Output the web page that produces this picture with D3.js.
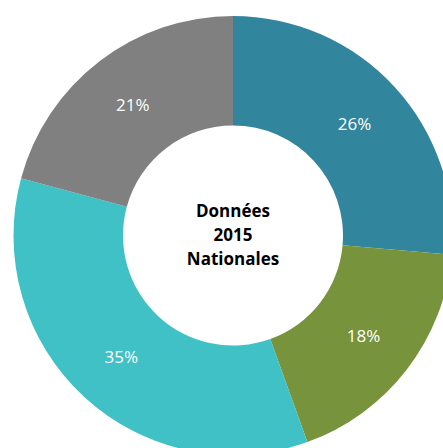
<!DOCTYPE html>
<html>
<head>
<meta charset="utf-8">
<script src="https://cdn.jsdelivr.net/npm/d3@7"></script>
<style>
  body { margin: 0; background: #fff; }
  svg { display: block; }
</style>
</head>
<body>
<div id="chart"></div>
<script>
var categories = ["A", "B", "C", "D"],
    values = [26.4, 18.1, 34.7, 20.8],
    colors = ["#31859C", "#77933C", "#40C1C6", "#808080"],
    centerLines = ["Données", "2015", "Nationales"];

var width = 443, height = 448,
    cx = 233, cy = 235.5,
    outer = 219.5, inner = 110;

var svg = d3.select("#chart").append("svg")
    .attr("width", width)
    .attr("height", height)
  .append("g")
    .attr("transform", `translate(${cx}, ${cy})`);

var pie = d3.pie().sort(null).value(d => d.value),
    arc = d3.arc().innerRadius(inner).outerRadius(outer),
    data = categories.map((c, i) => ({ name: c, value: values[i], color: colors[i] })),
    arcs = pie(data);

svg.selectAll("path")
    .data(arcs)
    .enter().append("path")
    .attr("d", arc)
    .style("fill", d => d.data.color);

var total = d3.sum(values);
svg.selectAll("text.lbl")
    .data(arcs)
    .enter().append("text")
    .attr("class", "lbl")
    .attr("transform", d => `translate(${arc.centroid(d)})`)
    .attr("text-anchor", "middle")
    .attr("dy", "0.35em")
    .style("font-family", "'Open Sans', sans-serif")
    .style("font-size", "17px")
    .style("fill", "#fff")
    .text(d => Math.round(d.data.value / total * 100) + "%");

svg.append("text")
    .attr("text-anchor", "middle")
    .style("font-family", "'Open Sans', sans-serif")
    .style("font-size", "17px")
    .style("font-weight", "bold")
    .style("fill", "#000")
    .selectAll("tspan")
    .data(centerLines)
    .enter().append("tspan")
    .attr("x", 0)
    .attr("y", (d, i) => (i - 1) * 24)
    .attr("dy", "0.35em")
    .text(d => d);
</script>
</body>
</html>
